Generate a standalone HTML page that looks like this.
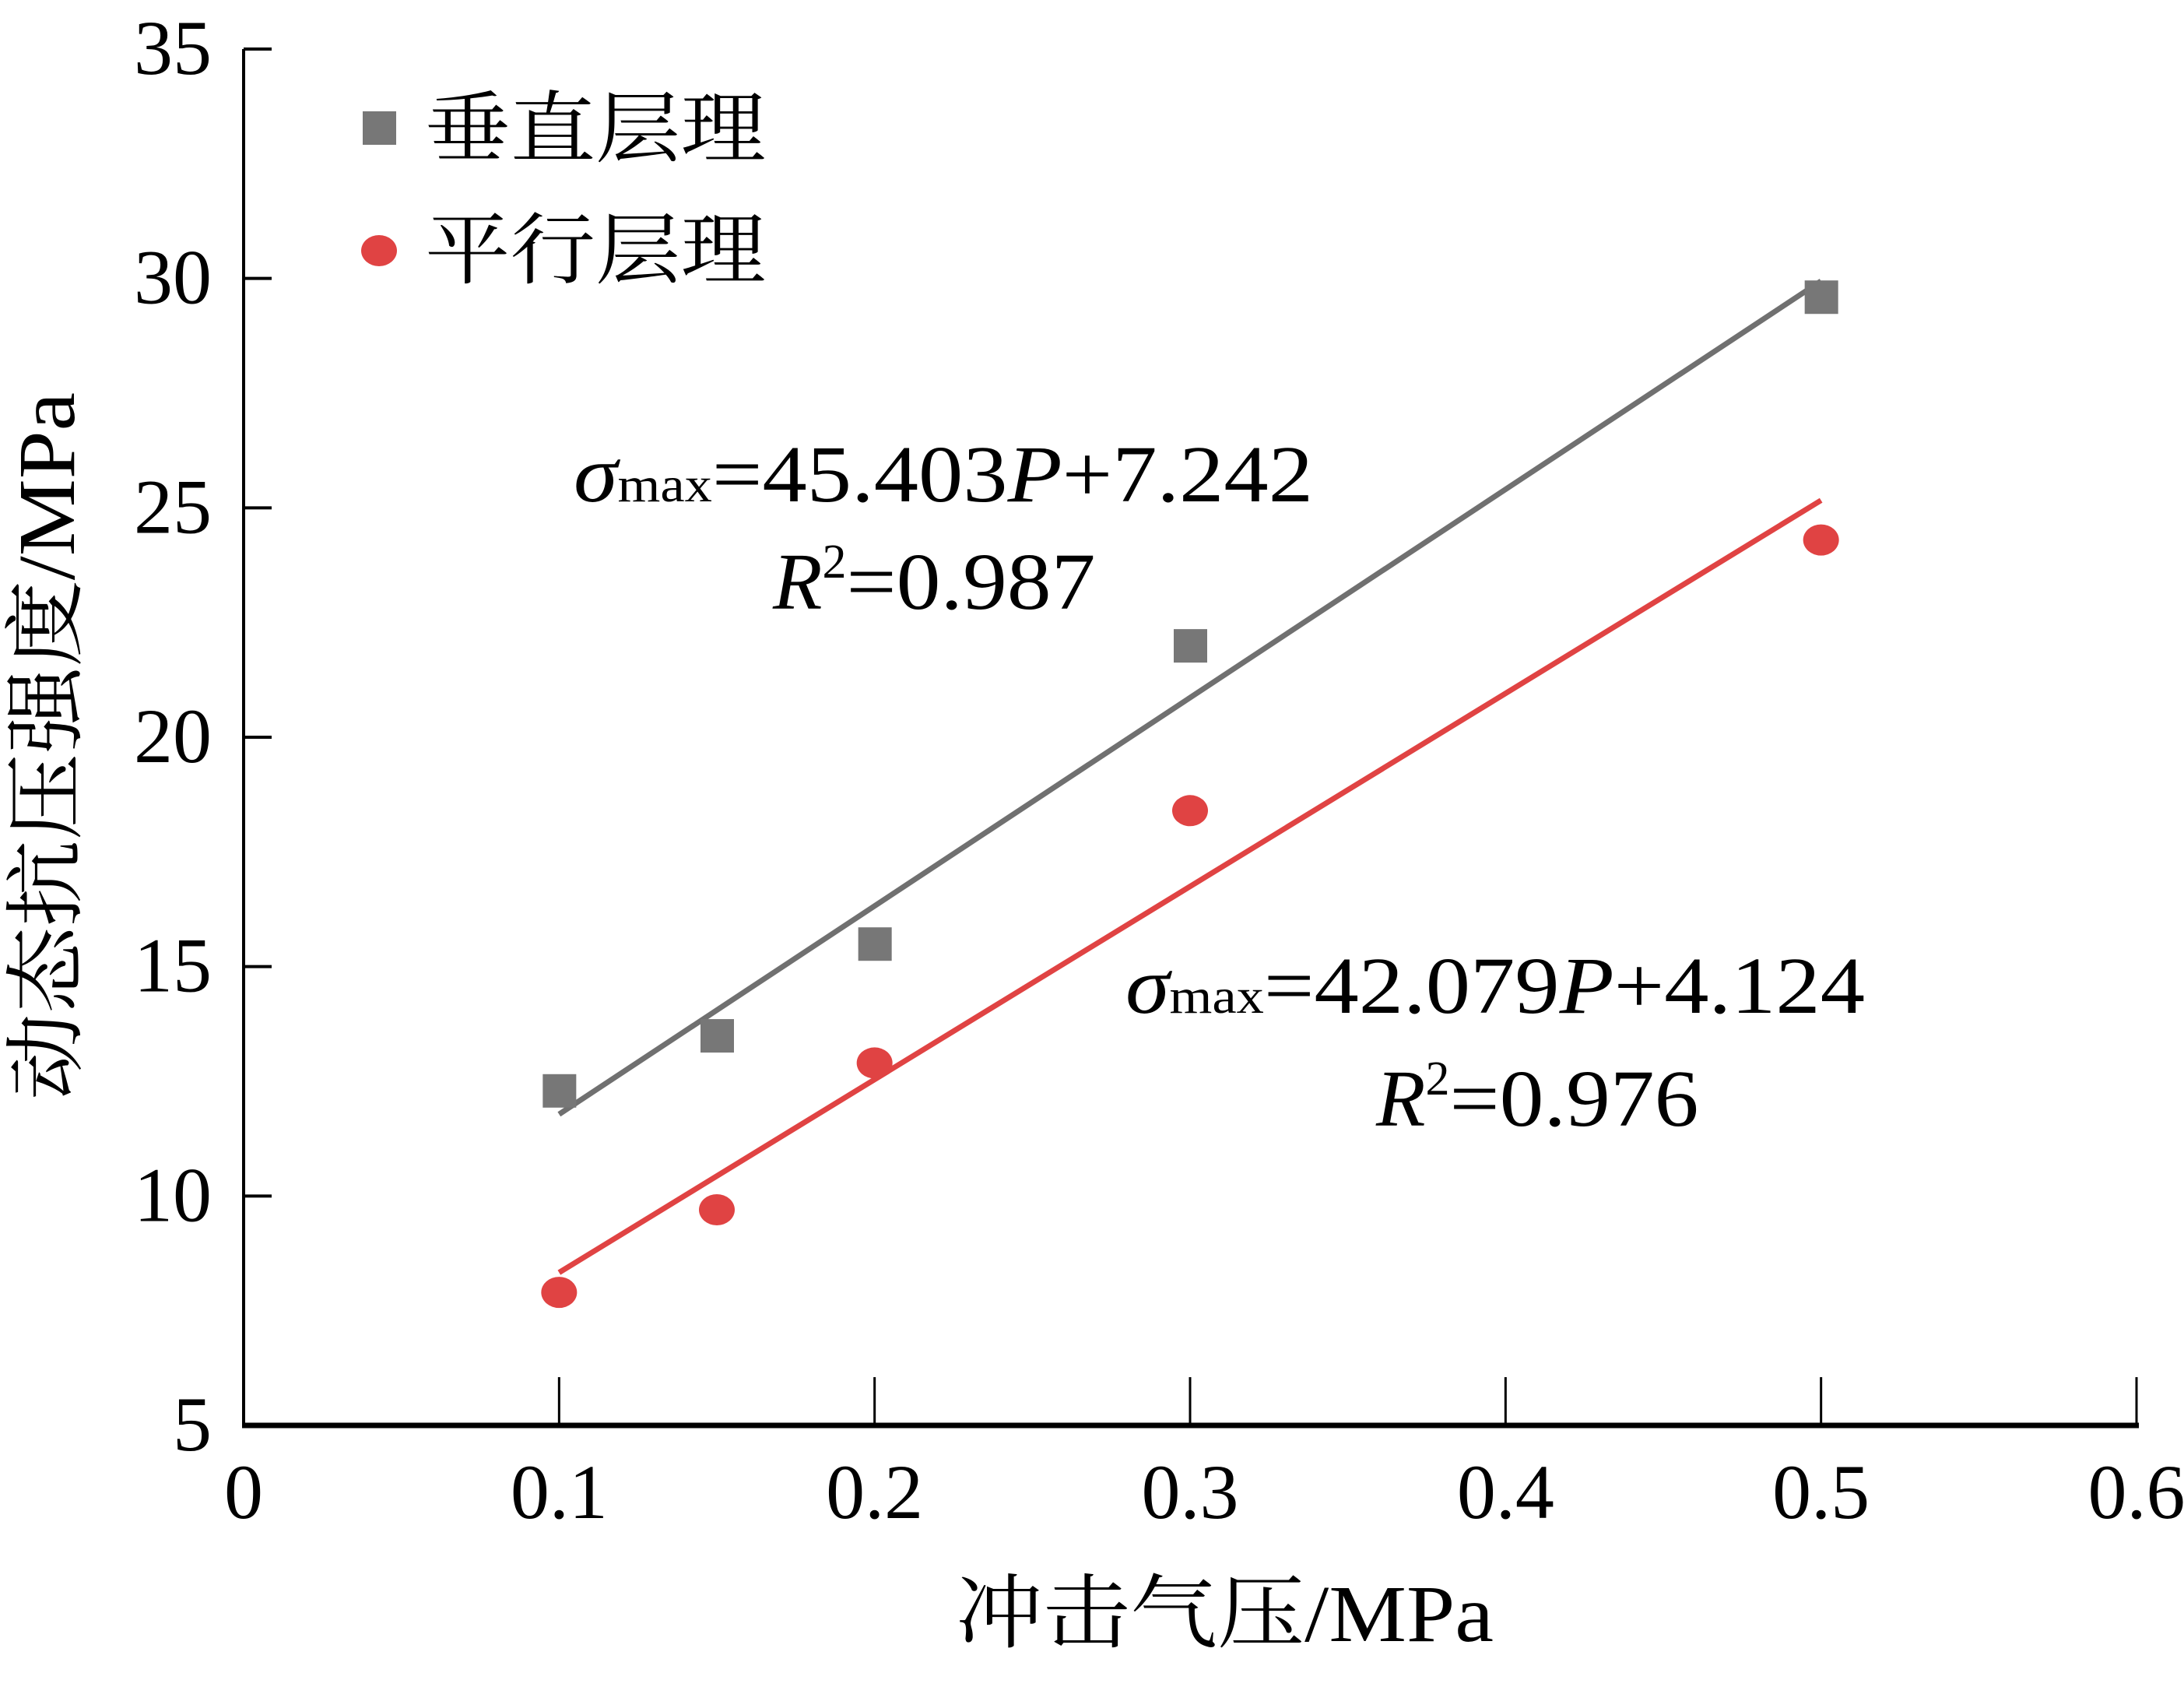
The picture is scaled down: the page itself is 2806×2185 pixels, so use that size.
<!DOCTYPE html>
<html><head><meta charset="utf-8"><style>
html,body{margin:0;padding:0;background:#fff;}
svg{display:block;}
text{font-family:"Liberation Serif","Noto Serif CJK SC",serif;fill:#000;}
</style></head><body>
<svg id="chart" width="2806" height="2185" viewBox="0 0 2806 2185" xmlns="http://www.w3.org/2000/svg">
<g id="axes"></g>
<g id="marks"></g>
<g>
  <rect x="466" y="143" width="43" height="43" fill="#777"/>
  <text x="546" y="200" font-size="100" textLength="438" lengthAdjust="spacingAndGlyphs">垂直层理</text>
  <ellipse cx="487" cy="322" rx="23" ry="20" fill="#e04343"/>
  <text x="546" y="356" font-size="100" textLength="438" lengthAdjust="spacingAndGlyphs">平行层理</text>
</g>
<text x="737" y="644" font-size="104" textLength="950" lengthAdjust="spacingAndGlyphs"><tspan font-style="italic">σ</tspan><tspan font-size="64">max</tspan>=45.403<tspan font-style="italic">P</tspan>+7.242</text>
<text x="993" y="782" font-size="104"><tspan font-style="italic">R</tspan><tspan font-size="62" dy="-40">2</tspan><tspan dy="40" textLength="320" lengthAdjust="spacingAndGlyphs">=0.987</tspan></text>
<text x="1446" y="1301" font-size="104" textLength="950" lengthAdjust="spacingAndGlyphs"><tspan font-style="italic">σ</tspan><tspan font-size="64">max</tspan>=42.079<tspan font-style="italic">P</tspan>+4.124</text>
<text x="1768" y="1446" font-size="104"><tspan font-style="italic">R</tspan><tspan font-size="62" dy="-40">2</tspan><tspan dy="40" textLength="320" lengthAdjust="spacingAndGlyphs">=0.976</tspan></text>
<text x="1228" y="2108" font-size="104" textLength="691" lengthAdjust="spacingAndGlyphs">冲击气压/MPa</text>
<text transform="translate(95,1413) rotate(-90)" font-size="104" textLength="909" lengthAdjust="spacingAndGlyphs">动态抗压强度/MPa</text>
</svg>
<script>
const xTicks=[0,0.1,0.2,0.3,0.4,0.5,0.6];
const xTickLabels=["0","0.1","0.2","0.3","0.4","0.5","0.6"];
const yTicks=[5,10,15,20,25,30,35];
const yTickLabels=["5","10","15","20","25","30","35"];
const pressures=[0.1,0.15,0.2,0.3,0.5];
const verticalValues=[12.3,13.5,15.5,22.0,29.6];
const parallelValues=[7.9,9.7,12.9,18.4,24.3];
const verticalFit=[45.403,7.242];
const parallelFit=[42.079,4.124];
const fitRange=[0.1,0.5];

const X0=313,X1=2745,Y0=1831,Y1=63;
function sx(v){return X0+(v-0)/(0.6-0)*(X1-X0);}
function sy(v){return Y0-(v-5)/(35-5)*(Y0-Y1);}
const NS="http://www.w3.org/2000/svg";
function mk(tag,attrs,parent){const e=document.createElementNS(NS,tag);for(const k in attrs)e.setAttribute(k,attrs[k]);parent.appendChild(e);return e;}
const axes=document.getElementById('axes'),marks=document.getElementById('marks');
let e;
e=mk('line',{x1:X0,y1:Y1,x2:X0,y2:Y0,stroke:'#000','stroke-width':4},axes);


e=mk('line',{x1:X0-2,y1:Y0,x2:X1+3,y2:Y0,stroke:'#000','stroke-width':7},axes);


xTicks.forEach((v,i)=>{
  const t=mk('line',{x1:sx(v),y1:Y0,x2:sx(v),y2:Y0-62,stroke:'#000','stroke-width':3},axes);
  
  
  const l=mk('text',{x:sx(v),y:1950,'font-size':100,'text-anchor':'middle'},axes);
  l.textContent=xTickLabels[i];
  
  
});
yTicks.forEach((v,i)=>{
  const t=mk('line',{x1:X0,y1:sy(v),x2:X0+36,y2:sy(v),stroke:'#000','stroke-width':4},axes);
  
  
  const l=mk('text',{x:272,y:sy(v)+32,'font-size':100,'text-anchor':'end'},axes);
  l.textContent=yTickLabels[i];
  
  
});
function fit(f,color,name){
  const l=mk('line',{x1:sx(fitRange[0]),y1:sy(f[0]*fitRange[0]+f[1]),x2:sx(fitRange[1]),y2:sy(f[0]*fitRange[1]+f[1]),stroke:color,'stroke-width':7},marks);
  
  
}
fit(verticalFit,'#707070','fit-line-vertical');
fit(parallelFit,'#e04343','fit-line-parallel');
pressures.forEach((p,i)=>{
  const r=mk('rect',{x:sx(p)-21,y:sy(verticalValues[i])-21,width:43,height:43,fill:'#777'},marks);
  
  
  const c=mk('ellipse',{cx:sx(p),cy:sy(parallelValues[i]),rx:23,ry:20,fill:'#e04343'},marks);
  
  
});
</script>
</body></html>
